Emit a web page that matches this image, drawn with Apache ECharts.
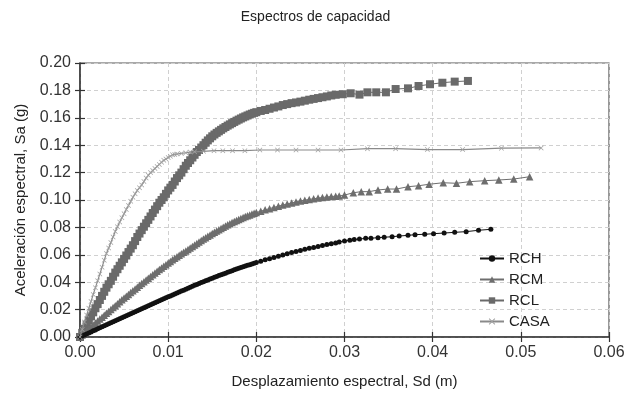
<!DOCTYPE html>
<html>
<head>
<meta charset="utf-8">
<script src="https://cdn.jsdelivr.net/npm/echarts@6/dist/echarts.min.js"></script>
<style>html,body{margin:0;padding:0;background:#fff;}#c{width:631px;height:400px;}</style>
</head>
<body>
<div id="c"></div>
<script>
var xTicks = [0, 0.01, 0.02, 0.03, 0.04, 0.05, 0.06];
var yTicks = [0, 0.02, 0.04, 0.06, 0.08, 0.10, 0.12, 0.14, 0.16, 0.18, 0.20];

// Sd sample positions of the dense early part (0 .. 0.02 m)
var sdDense = [0,0.00025,0.0005,0.00075,0.001,0.00125,0.0015,0.00175,0.002,0.00225,0.0025,0.00275,0.003,0.00325,0.0035,0.00375,0.004,0.00425,0.0045,0.00475,0.005,0.00525,0.0055,0.00575,0.006,0.00625,0.0065,0.00675,0.007,0.00725,0.0075,0.00775,0.008,0.00825,0.0085,0.00875,0.009,0.00925,0.0095,0.00975,0.010,0.01025,0.0105,0.01075,0.011,0.01125,0.0115,0.01175,0.012,0.01225,0.0125,0.01275,0.013,0.01325,0.0135,0.01375,0.014,0.01425,0.0145,0.01475,0.015,0.01525,0.0155,0.01575,0.016,0.01625,0.0165,0.01675,0.017,0.01725,0.0175,0.01775,0.018,0.01825,0.0185,0.01875,0.019,0.01925,0.0195,0.01975,0.020];
// Sd sample positions of the middle part (0.0205 .. 0.029 m)
var sdMid = [0.0205,0.021,0.0215,0.022,0.0225,0.023,0.0235,0.024,0.0245,0.025,0.0255,0.026,0.0265,0.027,0.0275,0.028,0.0285,0.029];

// RCH
var saRCHDense = [0,0.0007,0.0015,0.0022,0.003,0.0037,0.0045,0.0052,0.006,0.0067,0.0074,0.0082,0.0089,0.0096,0.0104,0.0111,0.0119,0.0126,0.0133,0.0141,0.0148,0.0155,0.0163,0.017,0.0177,0.0185,0.0192,0.0199,0.0207,0.0214,0.0221,0.0229,0.0236,0.0243,0.025,0.0258,0.0265,0.0272,0.0279,0.0286,0.0293,0.03,0.0307,0.0314,0.0321,0.0328,0.0335,0.0342,0.0349,0.0356,0.0363,0.037,0.0377,0.0384,0.039,0.0397,0.0403,0.041,0.0416,0.0423,0.0429,0.0436,0.0442,0.0448,0.0454,0.046,0.0466,0.0472,0.0478,0.0484,0.049,0.0496,0.0501,0.0507,0.0512,0.0518,0.0523,0.0528,0.0533,0.0538,0.0543];
var saRCHMid = [0.0553,0.0563,0.0572,0.0581,0.059,0.0599,0.0608,0.0616,0.0624,0.0632,0.064,0.0647,0.0654,0.0661,0.0668,0.0675,0.0681,0.0687];
var sdRCHTail = [0.0294,0.0300,0.0306,0.0311,0.0317,0.0324,0.0330,0.0338,0.0345,0.0354,0.0362,0.0372,0.0380,0.0391,0.0401,0.0413,0.0425,0.0438,0.0452,0.0466];
var saRCHTail = [0.0694,0.0701,0.0706,0.0711,0.0715,0.072,0.0721,0.0725,0.0728,0.0732,0.0737,0.0742,0.0747,0.075,0.0754,0.0759,0.0764,0.0769,0.0779,0.0786];

// RCM
var saRCMDense = [0,0.0015,0.0029,0.0044,0.0058,0.0073,0.0087,0.0102,0.0116,0.0131,0.0145,0.0159,0.0173,0.0187,0.0201,0.0215,0.0229,0.0243,0.0257,0.0271,0.0284,0.0298,0.0311,0.0325,0.0338,0.0351,0.0364,0.0377,0.039,0.0403,0.0416,0.0429,0.0442,0.0455,0.0467,0.048,0.0492,0.0504,0.0516,0.0528,0.054,0.0552,0.0563,0.0575,0.0586,0.0597,0.0607,0.0618,0.0628,0.0639,0.065,0.0661,0.0672,0.0683,0.0694,0.0705,0.0715,0.0725,0.0735,0.0745,0.0755,0.0765,0.0774,0.0783,0.0792,0.0801,0.081,0.0819,0.0827,0.0835,0.0843,0.0851,0.0858,0.0865,0.0872,0.0879,0.0885,0.0891,0.0897,0.0903,0.0908];
var saRCMMid = [0.0918,0.0928,0.0937,0.0946,0.0955,0.0963,0.0971,0.0979,0.0986,0.0993,0.0999,0.1004,0.1009,0.1014,0.1018,0.1022,0.1025,0.1028];
var sdRCMTail = [0.0294,0.0300,0.0310,0.0319,0.0328,0.0338,0.0349,0.0359,0.0372,0.0384,0.0396,0.0412,0.0427,0.0442,0.0459,0.0475,0.0492,0.0510];
var saRCMTail = [0.1029,0.1036,0.1053,0.1061,0.1061,0.1073,0.108,0.108,0.1097,0.1104,0.1115,0.1126,0.1122,0.1134,0.1141,0.1146,0.1153,0.117];

// RCL
var saRCLDense = [0,0.003,0.006,0.009,0.012,0.015,0.018,0.021,0.024,0.027,0.030,0.033,0.036,0.0385,0.041,0.044,0.047,0.0495,0.052,0.0545,0.057,0.0595,0.062,0.0645,0.067,0.070,0.073,0.0755,0.078,0.0805,0.083,0.0855,0.088,0.0905,0.093,0.0955,0.098,0.100,0.102,0.1045,0.107,0.109,0.111,0.1135,0.116,0.118,0.120,0.1225,0.125,0.127,0.129,0.131,0.133,0.135,0.1365,0.1383,0.140,0.1418,0.1435,0.145,0.1465,0.1478,0.149,0.1501,0.1512,0.1523,0.1533,0.1543,0.1552,0.1561,0.157,0.1579,0.1587,0.1595,0.1603,0.161,0.1617,0.1624,0.163,0.1636,0.1641];
var saRCLMid = [0.165,0.1657,0.1666,0.1675,0.1683,0.1693,0.170,0.1707,0.1712,0.1718,0.1725,0.1732,0.1738,0.1744,0.175,0.1756,0.1763,0.1768];
var sdRCLTail = [0.0298,0.0307,0.0317,0.0326,0.0336,0.0347,0.0358,0.0372,0.0384,0.0397,0.0411,0.0425,0.0440];
var saRCLTail = [0.1772,0.1779,0.1769,0.1786,0.1786,0.1786,0.181,0.1815,0.1832,0.1845,0.1856,0.1864,0.1869];

// CASA (dense part uses the first 45 positions of sdDense: 0 .. 0.011)
var saCASADense = [0,0.0055,0.011,0.016,0.021,0.026,0.031,0.036,0.041,0.046,0.051,0.056,0.061,0.065,0.069,0.073,0.077,0.0805,0.084,0.087,0.090,0.093,0.096,0.099,0.102,0.1045,0.107,0.109,0.111,0.1135,0.116,0.118,0.120,0.1215,0.123,0.1245,0.126,0.1275,0.129,0.130,0.131,0.132,0.133,0.1333,0.1335];
var sdCASATail = [0.0115,0.012,0.0125,0.013,0.014,0.0152,0.0162,0.0173,0.0187,0.0204,0.0224,0.0245,0.027,0.0296,0.0326,0.0358,0.0394,0.0434,0.0478,0.0523];
var saCASATail = [0.134,0.1345,0.135,0.1352,0.1355,0.136,0.136,0.136,0.136,0.1365,0.1365,0.1365,0.1365,0.1365,0.1375,0.1375,0.1368,0.1368,0.1378,0.138];

function zip(a, b) { return a.map(function (v, i) { return [v, b[i]]; }); }

var dataRCH = zip(sdDense.concat(sdMid, sdRCHTail), saRCHDense.concat(saRCHMid, saRCHTail));
var dataRCM = zip(sdDense.concat(sdMid, sdRCMTail), saRCMDense.concat(saRCMMid, saRCMTail));
var dataRCL = zip(sdDense.concat(sdMid, sdRCLTail), saRCLDense.concat(saRCLMid, saRCLTail));
var dataCASA = zip(sdDense.slice(0, saCASADense.length).concat(sdCASATail), saCASADense.concat(saCASATail));

var xSymbol = 'path://M0,1L1,0L5,4L9,0L10,1L6,5L10,9L9,10L5,6L1,10L0,9L4,5Z';
var font = 'Liberation Sans, Arial, sans-serif';

var chart = echarts.init(document.getElementById('c'), null, {renderer: 'canvas'});
var xMin = xTicks[0], xMax = xTicks[xTicks.length - 1];
var yMin = yTicks[0], yMax = yTicks[yTicks.length - 1];

chart.setOption({
  animation: false,
  backgroundColor: '#fff',
  title: {
    text: 'Espectros de capacidad', left: 'center', top: 5,
    textStyle: {fontFamily: font, fontSize: 14, fontWeight: 'normal', color: '#222'}
  },
  legend: {
    orient: 'vertical', left: 474, top: 246, itemGap: 6, itemWidth: 24, itemHeight: 8,
    textStyle: {fontFamily: font, fontSize: 15, color: '#222'},
    data: ['RCH', 'RCM', 'RCL', 'CASA']
  },
  grid: {left: 80, right: 22, top: 63, bottom: 63, show: true, borderColor: '#555', borderWidth: 1.2, backgroundColor: 'transparent'},
  xAxis: [{
    type: 'value', min: xMin, max: xMax, interval: 0.01,
    name: 'Desplazamiento espectral, Sd (m)', nameLocation: 'middle', nameGap: 37,
    nameTextStyle: {fontFamily: font, fontSize: 15, color: '#222'},
    axisLine: {show: true, lineStyle: {color: '#333', width: 1.5}},
    axisTick: {show: true, length: 5, lineStyle: {color: '#333', width: 1.2}},
    axisLabel: {fontFamily: font, fontSize: 16, color: '#333', margin: 8,
      formatter: function (v) { return v.toFixed(2); }},
    splitLine: {show: true, lineStyle: {color: '#d0d0d0', type: [4, 3], width: 1}}
  }, {
    type: 'value', min: xMin, max: xMax, interval: 0.01, position: 'bottom',
    axisLine: {show: false},
    axisTick: {show: true, inside: true, length: 5, lineStyle: {color: '#333', width: 1.2}},
    axisLabel: {show: false}, splitLine: {show: false}
  }],
  yAxis: [{
    type: 'value', min: yMin, max: yMax, interval: 0.02,
    name: 'Aceleración espectral, Sa (g)', nameLocation: 'middle', nameGap: 52,
    nameTextStyle: {fontFamily: font, fontSize: 15, color: '#222'},
    axisLine: {show: true, lineStyle: {color: '#333', width: 1.5}},
    axisTick: {show: true, length: 5, lineStyle: {color: '#333', width: 1.2}},
    axisLabel: {fontFamily: font, fontSize: 16, color: '#333', margin: 9,
      formatter: function (v) { return v.toFixed(2); }},
    splitLine: {show: true, lineStyle: {color: '#d0d0d0', type: [4, 3], width: 1}}
  }, {
    type: 'value', min: yMin, max: yMax, interval: 0.02, position: 'left',
    axisLine: {show: false},
    axisTick: {show: true, inside: true, length: 5, lineStyle: {color: '#333', width: 1.2}},
    axisLabel: {show: false}, splitLine: {show: false}
  }],
  series: [
    {name: 'RCH', type: 'line', data: dataRCH, symbol: 'circle', symbolSize: 5,
      itemStyle: {color: '#111'}, lineStyle: {color: '#111', width: 1}, z: 5},
    {name: 'RCM', type: 'line', data: dataRCM, symbol: 'triangle', symbolSize: 7.5,
      itemStyle: {color: '#6e6e6e'}, lineStyle: {color: '#6e6e6e', width: 1}, z: 4},
    {name: 'RCL', type: 'line', data: dataRCL, symbol: 'rect', symbolSize: 8,
      itemStyle: {color: '#6a6a6a'}, lineStyle: {color: '#6a6a6a', width: 1}, z: 3},
    {name: 'CASA', type: 'line', data: dataCASA, symbol: xSymbol, symbolSize: 5,
      itemStyle: {color: '#a0a0a0'}, lineStyle: {color: '#8a8a8a', width: 1.2}, z: 6}
  ]
});
</script>
</body>
</html>
